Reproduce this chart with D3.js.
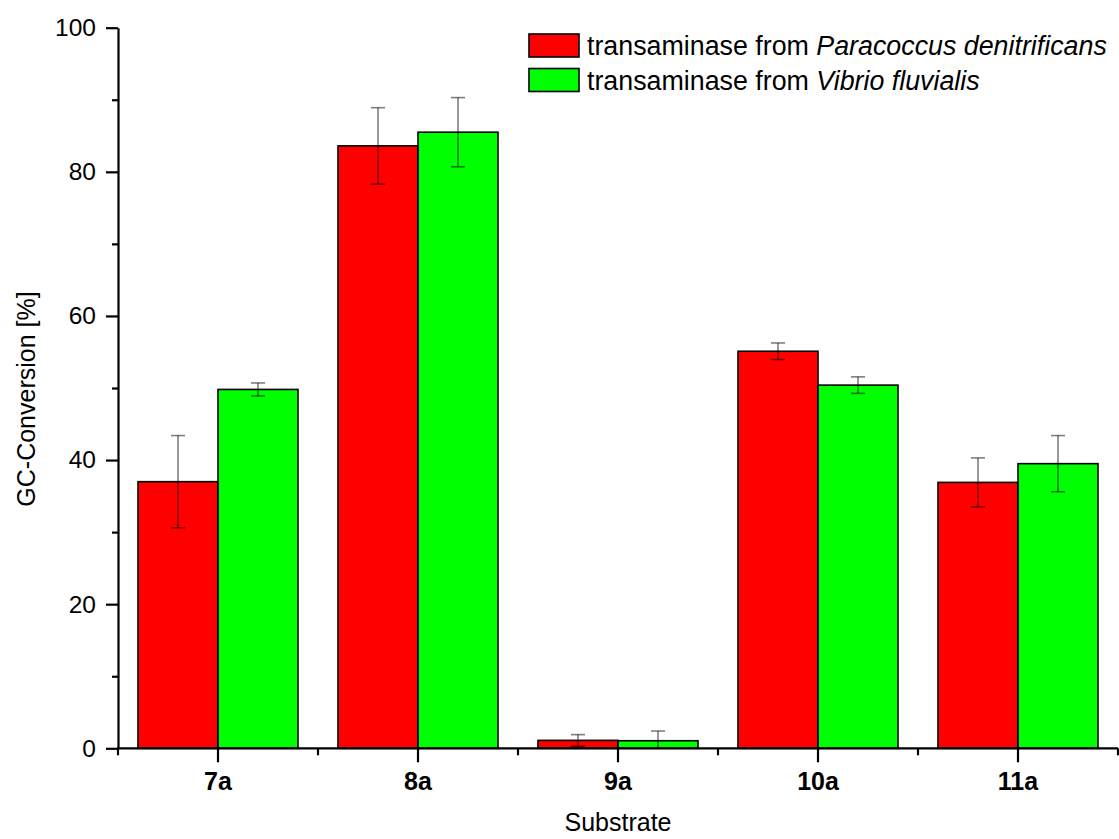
<!DOCTYPE html>
<html><head><meta charset="utf-8">
<script src="https://cdn.jsdelivr.net/npm/d3@7"></script>
<style>body{margin:0;background:#fff;} text{font-family:"Liberation Sans",Arial,sans-serif;}</style>
</head><body>
<svg id="c" width="1119" height="839"></svg>
<script>
const categories = ["7a","8a","9a","10a","11a"];
const seriesNames = ["Paracoccus denitrificans","Vibrio fluvialis"];
const paracoccus = [37.0, 83.6, 1.1, 55.1, 36.9];
const paracoccusErr = [6.4, 5.3, 0.8, 1.15, 3.4];
const vibrio = [49.8, 85.5, 1.05, 50.4, 39.5];
const vibrioErr = [0.9, 4.8, 1.35, 1.15, 3.9];
const yTicks = [0,20,40,60,80,100];
const colors = ["#ff0000","#00ff00"];

const svg = d3.select("#c");
const x0 = 118, x1 = 1118, yTop = 27.7, yBot = 748.3;
const x = d3.scaleBand().domain(categories).range([x0,x1]).paddingInner(0.2).paddingOuter(0.1);
const xs = d3.scaleBand().domain([0,1]).range([0,x.bandwidth()]);
const y = d3.scaleLinear().domain([0,100]).range([yBot,yTop]);

const series = [
  {vals: paracoccus, errs: paracoccusErr},
  {vals: vibrio, errs: vibrioErr}
];

// bars
series.forEach((s,si)=>{
  svg.append("g").selectAll("rect").data(categories).join("rect")
    .attr("x", c=>x(c)+xs(si))
    .attr("y", (c,i)=>y(s.vals[i]))
    .attr("width", xs.bandwidth())
    .attr("height", (c,i)=>y(0)-y(s.vals[i]))
    .attr("fill", colors[si]).attr("stroke","#000").attr("stroke-width",1.6);
});
// error bars
series.forEach((s,si)=>{
  const g = svg.append("g").attr("stroke","#000").attr("stroke-opacity",0.5).attr("stroke-width",1.6);
  categories.forEach((c,i)=>{
    const cx = x(c)+xs(si)+xs.bandwidth()/2;
    const lo = y(Math.max(0, s.vals[i]-s.errs[i])), hi = y(s.vals[i]+s.errs[i]);
    g.append("line").attr("x1",cx).attr("x2",cx).attr("y1",lo).attr("y2",hi);
    if (s.vals[i]-s.errs[i] > 0)
      g.append("line").attr("x1",cx-7).attr("x2",cx+7).attr("y1",lo).attr("y2",lo);
    g.append("line").attr("x1",cx-7).attr("x2",cx+7).attr("y1",hi).attr("y2",hi);
  });
});

// y axis
const yAxis = d3.axisLeft(y).tickValues(yTicks).tickSize(12).tickPadding(10).tickSizeOuter(0);
const gy = svg.append("g").attr("transform",`translate(${x0},0)`).call(yAxis);
gy.select(".domain").attr("stroke-width",2.2);
gy.selectAll(".tick line").attr("stroke-width",2.2);
gy.selectAll("text").attr("font-size",24.5).attr("fill","#000").attr("font-family","Liberation Sans, Arial, sans-serif");
// y minor ticks
const yMinor = d3.axisLeft(y).tickValues([10,30,50,70,90]).tickSize(6).tickFormat("").tickSizeOuter(0);
const gym = svg.append("g").attr("transform",`translate(${x0},0)`).call(yMinor);
gym.select(".domain").remove();
gym.selectAll(".tick line").attr("stroke-width",2.2);

// x axis
const xAxis = d3.axisBottom(x).tickSize(14).tickPadding(10).tickSizeOuter(0);
const gx = svg.append("g").attr("transform",`translate(0,${yBot})`).call(xAxis);
gx.select(".domain").attr("stroke-width",2.2).attr("d",`M${x0-1},0H${x1}`);
gx.selectAll(".tick line").attr("stroke-width",2.2);
gx.selectAll("text").attr("font-size",25).attr("font-weight","bold").attr("fill","#000").attr("font-family","Liberation Sans, Arial, sans-serif");
// x minor ticks at category boundaries
const bounds = d3.range(categories.length+1).map(i=>x0 + i*x.step());
svg.append("g").selectAll("line").data(bounds).join("line")
  .attr("x1",d=>d).attr("x2",d=>d).attr("y1",yBot).attr("y2",yBot+7)
  .attr("stroke","#000").attr("stroke-width",2.2);

// axis titles
svg.append("text").attr("x",(x0+x1)/2).attr("y",831).attr("text-anchor","middle")
  .attr("font-size",25).attr("fill","#000").text("Substrate");
svg.append("text").attr("transform",`translate(35,399) rotate(-90)`).attr("text-anchor","middle")
  .attr("font-size",25).attr("fill","#000").text("GC-Conversion [%]");

// legend
const lg = svg.append("g");
seriesNames.forEach((n,i)=>{
  const ly = 34 + i*34.5;
  lg.append("rect").attr("x",529).attr("y",ly).attr("width",50).attr("height",23)
    .attr("fill",colors[i]).attr("stroke","#000").attr("stroke-width",1.6);
  const t = lg.append("text").attr("x",587).attr("y",ly+21).attr("font-size",26.8).attr("fill","#000");
  t.append("tspan").text("transaminase from ");
  t.append("tspan").attr("font-style","italic").text(n);
});
</script>
</body></html>
